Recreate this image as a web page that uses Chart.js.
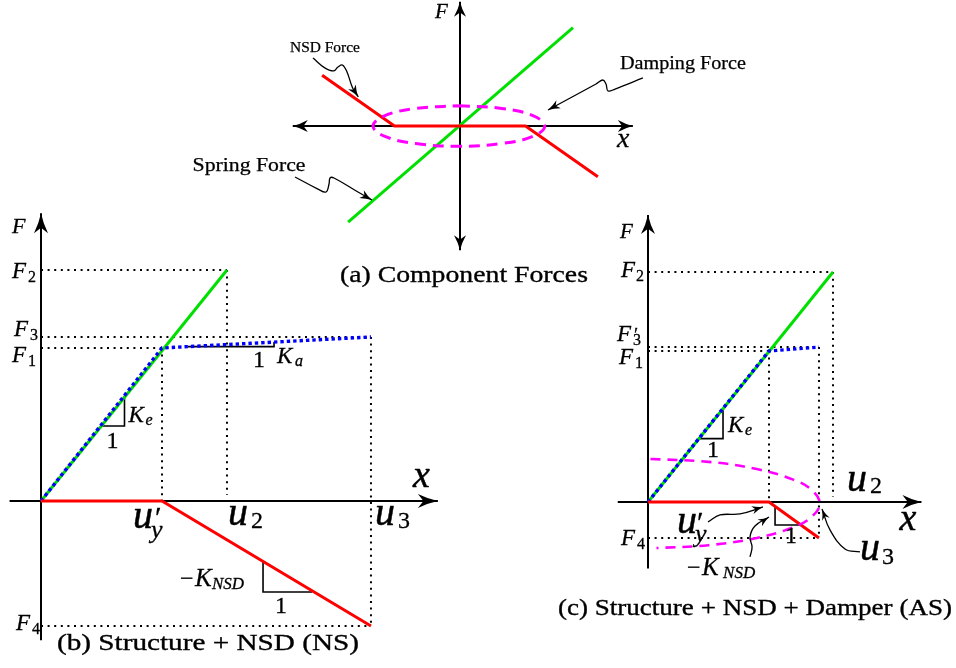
<!DOCTYPE html>
<html lang="en">
<head>
<meta charset="UTF-8">
<script src="https://cdn.jsdelivr.net/npm/chart.js@4.4.1/dist/chart.umd.min.js"></script>
<title>NSD force diagrams</title>
<style>
  html, body { margin: 0; padding: 0; background: #fff; }
</style>
</head>
<body>
<canvas id="chart" width="956" height="668"></canvas>
<script>
// (a) component forces
const aAxisX = [-1.48, 1.53];
const aAxisF = [-1.10, 1.10];
const aSpringX = [-0.99, 1.0];
const aSpringF = [-0.85, 0.87];
const aNsdX = [-1.22, -0.58, 0.58, 1.22];
const aNsdF = [0.45, 0, 0, -0.45];
const aDampX = [-0.01, 0.37, 0.65, 0.75, 0.65, 0.37, -0.01, -0.39, -0.67, -0.77, -0.67, -0.39, -0.01];
const aDampF = [0.18, 0.155, 0.09, 0, -0.09, -0.155, -0.18, -0.155, -0.09, 0, 0.09, 0.155, 0.18];

// (b) structure + NSD
const bU = [1, 1.537, 2.727];          // u'y, u2, u3
const bF = [1, 1.51, 1.072, -0.817];   // F1, F2, F3, F4
const bAxisX = [-0.26, 3.28];
const bAxisF = [-0.91, 1.88];
const bSpringX = [0, 1.537];
const bSpringF = [0, 1.51];
const bStructX = [0, 1, 2.727];
const bStructF = [0, 1, 1.072];
const bNsdX = [0, 1, 2.727];
const bNsdF = [0, 0, -0.817];
const bKeX = [0.49, 0.69, 0.69], bKeF = [0.49, 0.49, 0.69];
const bKaX = [1.215, 1.926, 1.926], bKaF = [1.009, 1.009, 1.039];
const bKnX = [1.835, 1.835, 2.24], bKnF = [-0.395, -0.595, -0.595];

// (c) structure + NSD + damper
const cU = [1, 1.529, 1.413];          // u'y, u2, u3
const cF = [1, 1.523, 1.026, -0.238];  // F1, F2, F3', F4
const cAxisX = [-0.25, 2.26];
const cAxisF = [-0.44, 1.90];
const cSpringX = [0, 1.529];
const cSpringF = [0, 1.523];
const cStructX = [0, 1, 1.413];
const cStructF = [0, 1, 1.026];
const cNsdX = [0, 1, 1.413];
const cNsdF = [0, 0, -0.238];
const cDampX = [0.02, 0.5, 0.9, 1.2, 1.35, 1.42, 1.35, 1.2, 0.9, 0.5, 0.07];
const cDampF = [0.285, 0.266, 0.218, 0.148, 0.081, -0.01, -0.10, -0.168, -0.238, -0.286, -0.305];
const cKeX = [0.42, 0.62, 0.62], cKeF = [0.42, 0.42, 0.62];
const cKnX = [1.05, 1.05, 1.256], cKnF = [-0.029, -0.152, -0.152];

// pointer curves (label -> line)
const aNsdPtrX = [-1.301, -1.20, -1.12, -1.08, -1.04, -1.00, -0.95, -0.90];
const aNsdPtrF = [0.602, 0.517, 0.487, 0.522, 0.540, 0.478, 0.336, 0.257];
const aDampPtrX = [1.619, 1.372, 1.310, 1.292, 1.265, 1.204, 0.779];
const aDampPtrF = [0.425, 0.327, 0.310, 0.372, 0.407, 0.372, 0.142];
const aSprPtrX = [-1.460, -1.257, -1.186, -1.159, -1.150, -1.115, -0.903, -0.779];
const aSprPtrF = [-0.451, -0.558, -0.584, -0.513, -0.460, -0.460, -0.584, -0.655];
const cUyPtrX = [0.496, 0.595, 0.760, 0.950];
const cUyPtrF = [-0.132, -0.086, -0.079, -0.033];
const cKnPtrX = [0.843, 0.860, 0.843, 0.884, 1.0];
const cKnPtrF = [-0.364, -0.298, -0.232, -0.159, -0.099];
const cU3PtrX = [1.752, 1.628, 1.504, 1.438];
const cU3PtrF = [-0.331, -0.311, -0.185, -0.046];

const W = 956, H = 668;
// where each panel's origin sits and how many px one unit takes
const frames = {
  a: { ox: 460, oy: 126, kx: 113, ky: 113 },
  b: { ox: 41, oy: 501, kx: 121, ky: 153 },
  c: { ox: 648, oy: 502, kx: 121, ky: 151 }
};

const dotted = { borderColor: '#000', borderWidth: 2, borderDash: [2, 4.6], order: 9 };
const axisLine = { borderColor: '#000', borderWidth: 2, order: 8 };
const thin = { borderColor: '#000', borderWidth: 1.6, order: 7 };
const green = { borderColor: '#00e000', borderWidth: 3, order: 6 };
const blue = { borderColor: '#0000ff', borderWidth: 3.4, borderDash: [3.4, 3], order: 5 };
const red = { borderColor: '#ff0000', borderWidth: 3, order: 4 };
const magenta = { borderColor: '#ff00ff', borderWidth: 3, borderDash: [11, 7], tension: 0.4, order: 3 };
const curly = { borderColor: '#000', borderWidth: 1.3, tension: 0.4, order: 2 };

function ln(p, xs, ys, style, extra) {
  return Object.assign({
    data: xs.map((x, i) => ({ x: x, y: ys[i] })),
    xAxisID: 'x' + p, yAxisID: 'y' + p,
    showLine: true, pointRadius: 0, pointHoverRadius: 0, fill: false, tension: 0
  }, style, extra || {});
}

const datasets = [
  // panel a
  ln('a', [0, aAxisX[0]], [0, 0], axisLine, { arrow: [15, 6] }),
  ln('a', [0, aAxisX[1]], [0, 0], axisLine, { arrow: [15, 6] }),
  ln('a', [0, 0], [0, aAxisF[0]], axisLine, { arrow: [15, 6] }),
  ln('a', [0, 0], [0, aAxisF[1]], axisLine, { arrow: [15, 6] }),
  ln('a', aSpringX, aSpringF, green),
  ln('a', aNsdX, aNsdF, red),
  ln('a', aDampX, aDampF, magenta),
  ln('a', aNsdPtrX, aNsdPtrF, curly, { arrow: [12, 4.5] }),
  ln('a', aDampPtrX, aDampPtrF, curly, { arrow: [12, 4.5] }),
  ln('a', aSprPtrX, aSprPtrF, curly, { arrow: [12, 4.5] }),

  // panel b
  ln('b', [0, bU[1]], [bF[1], bF[1]], dotted),
  ln('b', [bU[1], bU[1]], [bF[1], 0.04], dotted),
  ln('b', [0, bU[2]], [bF[2], bF[2]], dotted),
  ln('b', [bU[2], bU[2]], [bF[2], bF[3]], dotted),
  ln('b', [0, bU[0]], [bF[0], bF[0]], dotted),
  ln('b', [bU[0], bU[0]], [bF[0], 0], dotted),
  ln('b', [0, bU[2]], [bF[3], bF[3]], dotted),
  ln('b', bAxisX, [0, 0], axisLine, { arrow: [20, 7] }),
  ln('b', [0, 0], bAxisF, axisLine, { arrow: [20, 7] }),
  ln('b', bSpringX, bSpringF, green),
  ln('b', bStructX, bStructF, blue),
  ln('b', bNsdX, bNsdF, red),
  ln('b', bKeX, bKeF, thin),
  ln('b', bKaX, bKaF, thin),
  ln('b', bKnX, bKnF, thin),

  // panel c
  ln('c', [0, cU[1]], [cF[1], cF[1]], dotted),
  ln('c', [cU[1], cU[1]], [cF[1], 0.033], dotted),
  ln('c', [0, cU[2]], [cF[2], cF[2]], dotted),
  ln('c', [0, cU[0]], [cF[0], cF[0]], dotted),
  ln('c', [cU[0], cU[0]], [cF[0], 0], dotted),
  ln('c', [cU[2], cU[2]], [cF[2], cF[3]], dotted),
  ln('c', [0, cU[2]], [cF[3], cF[3]], dotted),
  ln('c', cAxisX, [0, 0], axisLine, { arrow: [19, 7] }),
  ln('c', [0, 0], cAxisF, axisLine, { arrow: [19, 7] }),
  ln('c', cSpringX, cSpringF, green),
  ln('c', cStructX, cStructF, blue),
  ln('c', cNsdX, cNsdF, red),
  ln('c', cDampX, cDampF, magenta, { borderWidth: 2.6, borderDash: [10, 7] }),
  ln('c', cKeX, cKeF, thin),
  ln('c', cKnX, cKnF, thin),
  ln('c', cUyPtrX, cUyPtrF, curly, { arrow: [11, 4] }),
  ln('c', cKnPtrX, cKnPtrF, curly, { arrow: [11, 4] }),
  ln('c', cU3PtrX, cU3PtrF, curly, { arrow: [11, 4] })
];

// math labels: anchor in panel units, then [text, size, dx, dy, 'r' for upright]
const mathLabels = [
  { p: 'a', x: 0, y: aAxisF[1], items: [['F', 21, -25, 16]] },
  { p: 'a', x: aAxisX[1], y: 0, items: [['x', 28, -16, 21]] },

  { p: 'b', x: 0, y: bAxisF[1], items: [['F', 22, -29, 20]] },
  { p: 'b', x: 0, y: bF[1], items: [['F', 23, -29, 8], ['2', 16, -13, 12, 'r']] },
  { p: 'b', x: 0, y: bF[2], items: [['F', 23, -27, -1], ['3', 16, -11, 3, 'r']] },
  { p: 'b', x: 0, y: bF[0], items: [['F', 23, -29, 14], ['1', 16, -13, 18, 'r']] },
  { p: 'b', x: 0, y: bF[3], items: [['F', 23, -25, 4], ['4', 16, -9, 8, 'r']] },
  { p: 'b', x: bAxisX[1], y: 0, items: [['x', 38, -25, -14]] },
  { p: 'b', x: bU[0], y: 0, items: [['u', 40, -29, 27], ['\u2032', 30, -7, 26, 'r'], ['y', 26, -11, 37]] },
  { p: 'b', x: bU[1], y: 0, items: [['u', 40, 1, 24], ['2', 24, 24, 27, 'r']] },
  { p: 'b', x: bU[2], y: 0, items: [['u', 40, 4, 24], ['3', 24, 27, 27, 'r']] },
  { p: 'b', x: bKeX[1], y: bKeF[1], items: [['K', 23, 4, -4], ['e', 16, 21, -1], ['1', 24, -18, 22, 'r']] },
  { p: 'b', x: bKaX[1], y: bKaF[1], items: [['1', 24, -21, 20, 'r'], ['K', 23, 3, 16], ['a', 16, 21, 19]] },
  { p: 'b', x: bKnX[1], y: bKnF[1], items: [['\u2212', 24, -83, -6, 'r'], ['K', 25, -68, -6], ['NSD', 17, -51, -3], ['1', 24, 12, 21, 'r']] },

  { p: 'c', x: 0, y: cAxisF[1], items: [['F', 21, -28, 23]] },
  { p: 'c', x: 0, y: cF[1], items: [['F', 23, -27, 5], ['2', 16, -12, 9, 'r']] },
  { p: 'c', x: 0, y: cF[2], items: [['F', 23, -31, -6], ['\u2032', 19, -14, -6, 'r'], ['3', 16, -15, -2, 'r']] },
  { p: 'c', x: 0, y: cF[0], items: [['F', 23, -29, 13], ['1', 16, -13, 17, 'r']] },
  { p: 'c', x: 0, y: cF[3], items: [['F', 23, -27, 7], ['4', 16, -11, 11, 'r']] },
  { p: 'c', x: cU[1], y: 0, items: [['u', 40, 14, -11], ['2', 24, 37, -9, 'r']] },
  { p: 'c', x: cAxisX[1], y: 0, items: [['x', 38, -22, 28]] },
  { p: 'c', x: cU[0], y: 0, items: [['u', 40, -92, 31], ['\u2032', 30, -72, 30, 'r'], ['y', 26, -74, 40]] },
  { p: 'c', x: cU[2], y: 0, items: [['u', 40, 41, 58], ['3', 24, 63, 62, 'r']] },
  { p: 'c', x: cKeX[1], y: cKeF[1], items: [['K', 23, 5, -7], ['e', 16, 22, -4], ['1', 24, -16, 18, 'r']] },
  { p: 'c', x: cKnX[1], y: cKnF[1], items: [['\u2212', 24, -88, 50, 'r'], ['K', 25, -73, 50], ['NSD', 17, -52, 53], ['1', 24, 10, 18, 'r']] }
];

// plain text: centre x / baseline in panel units, font size, target width
const textLabels = [
  { p: 'a', x: -1.195, y: 0.655, text: 'NSD Force', size: 15, width: 70 },
  { p: 'a', x: 1.973, y: 0.504, text: 'Damping Force', size: 18, width: 126 },
  { p: 'a', x: -1.867, y: -0.398, text: 'Spring Force', size: 18, width: 113 },
  { p: 'a', x: 0.035, y: -1.38, text: '(a) Component Forces', size: 24, width: 248 },
  { p: 'b', x: 1.38, y: -0.974, text: '(b) Structure + NSD (NS)', size: 24, width: 302 },
  { p: 'c', x: 0.884, y: -0.748, text: '(c) Structure + NSD + Damper (AS)', size: 24, width: 394 }
];

const SERIF = '"Liberation Serif", "Times New Roman", Times, serif';

function toPx(chart, p, x, y) {
  return [chart.scales['x' + p].getPixelForValue(x), chart.scales['y' + p].getPixelForValue(y)];
}

function head(ctx, x, y, ang, len, half, color) {
  ctx.save();
  ctx.translate(x, y);
  ctx.rotate(ang);
  ctx.fillStyle = color;
  ctx.beginPath();
  ctx.moveTo(0, 0);
  ctx.quadraticCurveTo(-len * 0.5, -half * 0.3, -len, -half);
  ctx.lineTo(-len * 0.72, 0);
  ctx.lineTo(-len, half);
  ctx.quadraticCurveTo(-len * 0.5, half * 0.3, 0, 0);
  ctx.closePath();
  ctx.fill();
  ctx.restore();
}

// fill plus a hairline stroke, so the serif face looks a little heavier
function heavyText(ctx, text, x, y, weight) {
  ctx.fillText(text, x, y);
  ctx.lineWidth = weight;
  ctx.strokeText(text, x, y);
}

const overlay = {
  id: 'overlay',
  afterDatasetsDraw(chart) {
    const ctx = chart.ctx;
    chart.data.datasets.forEach((ds, i) => {
      if (!ds.arrow) return;
      const pts = chart.getDatasetMeta(i).data;
      const end = pts[pts.length - 1];
      let fx = end.cp1x, fy = end.cp1y;
      if (fx === undefined || Math.hypot(end.x - fx, end.y - fy) < 0.5) {
        fx = pts[pts.length - 2].x;
        fy = pts[pts.length - 2].y;
      }
      head(ctx, end.x, end.y, Math.atan2(end.y - fy, end.x - fx), ds.arrow[0], ds.arrow[1], ds.borderColor);
    });

    ctx.save();
    ctx.fillStyle = '#000';
    ctx.strokeStyle = '#000';
    ctx.lineJoin = 'round';
    ctx.textBaseline = 'alphabetic';
    ctx.textAlign = 'left';
    mathLabels.forEach(l => {
      const [px, py] = toPx(chart, l.p, l.x, l.y);
      l.items.forEach(it => {
        ctx.font = (it[4] === 'r' ? '' : 'italic ') + it[1] + 'px ' + SERIF;
        heavyText(ctx, it[0], px + it[2], py + it[3], it[1] > 30 ? 0.5 : 0.3);
      });
    });
    textLabels.forEach(l => {
      const [px, py] = toPx(chart, l.p, l.x, l.y);
      ctx.font = l.size + 'px ' + SERIF;
      const w = ctx.measureText(l.text).width;
      ctx.save();
      ctx.translate(px, py);
      ctx.scale(l.width / w, 1);
      ctx.textAlign = 'center';
      heavyText(ctx, l.text, 0, 0, l.size > 20 ? 0.35 : 0.25);
      ctx.restore();
    });
    ctx.restore();
  }
};

const scales = {
  x: { type: 'linear', display: false },
  y: { type: 'linear', display: false }
};
Object.keys(frames).forEach(p => {
  const f = frames[p];
  scales['x' + p] = { type: 'linear', axis: 'x', display: false, min: -f.ox / f.kx, max: (W - f.ox) / f.kx };
  scales['y' + p] = { type: 'linear', axis: 'y', display: false, min: -(H - f.oy) / f.ky, max: f.oy / f.ky };
});

new Chart(document.getElementById('chart'), {
  type: 'scatter',
  data: { datasets: datasets },
  options: {
    responsive: false,
    animation: false,
    events: [],
    layout: { padding: 0 },
    plugins: { legend: { display: false }, tooltip: { enabled: false } },
    scales: scales
  },
  plugins: [overlay]
});
</script>
</body>
</html>
